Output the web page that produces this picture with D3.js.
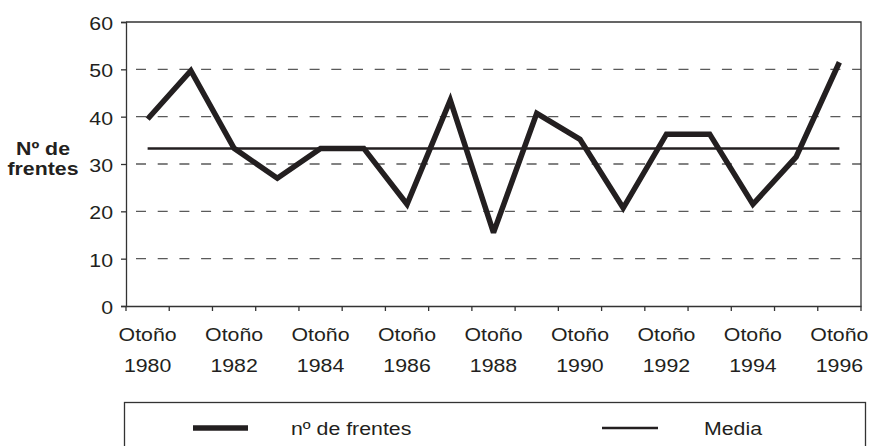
<!DOCTYPE html>
<html>
  <head>
    <meta charset="utf-8" />
    <script src="https://d3js.org/d3.v7.min.js"></script>
    <style>
      body { margin: 0; background: #fff; }
      text { font-family: "Liberation Sans", Arial, sans-serif; fill: #231f20; }
    </style>
  </head>
  <body>
    <svg id="chart" width="871" height="446"></svg>
    <script>
      // data
      const years = [1980, 1981, 1982, 1983, 1984, 1985, 1986, 1987, 1988,
                     1989, 1990, 1991, 1992, 1993, 1994, 1995, 1996];
      const frentes = [39.5, 49.7, 33.3, 27, 33.3, 33.3, 21.5, 43.5, 15.5,
                       40.7, 35.2, 20.7, 36.3, 36.3, 21.5, 31.5, 51.5];
      const media = 33.3;
      const yTicks = [0, 10, 20, 30, 40, 50, 60];
      const labelYears = [1980, 1982, 1984, 1986, 1988, 1990, 1992, 1994, 1996];

      const svg = d3.select("#chart");
      const ink = "#231f20";
      const fs = 18.7;       // font size
      const stretch = 1.14;  // the original text is a bit wide

      const x = d3.scaleBand().domain(years).range([126, 861]).paddingInner(0);
      const y = d3.scaleLinear().domain([0, 60]).range([306, 22]);
      const cx = (d) => x(d) + x.bandwidth() / 2;

      // dashed gridlines
      svg.append("g")
        .selectAll("line")
        .data(yTicks.filter((d) => d > 0 && d < 60))
        .join("line")
        .attr("x1", x.range()[0])
        .attr("x2", x.range()[1])
        .attr("y1", (d) => y(d))
        .attr("y2", (d) => y(d))
        .attr("stroke", "#5a5a5a")
        .attr("stroke-width", 1.3)
        .attr("stroke-dasharray", "10,11.7")
        .attr("stroke-dashoffset", 11.7);

      // plot frame top and right
      svg.append("path")
        .attr("d", `M${x.range()[0]},${y(60)}H${x.range()[1]}V${y(0)}`)
        .attr("fill", "none")
        .attr("stroke", "#333")
        .attr("stroke-width", 1.3);

      // y axis
      const yAxis = svg.append("g")
        .attr("transform", `translate(${x.range()[0]},0)`)
        .call(d3.axisLeft(y).tickValues(yTicks).tickSize(5));
      yAxis.select(".domain").attr("stroke", "#333").attr("stroke-width", 1.3);
      yAxis.selectAll(".tick line").attr("stroke", "#333").attr("stroke-width", 1.3);
      yAxis.selectAll(".tick text")
        .attr("x", 0)
        .attr("dy", "0.4em")
        .attr("transform", `translate(-13,0) scale(${stretch},1)`)
        .attr("font-size", fs)
        .attr("font-family", "Liberation Sans, Arial, sans-serif")
        .attr("fill", ink);

      // x axis line + ticks at band edges
      const xAxis = svg.append("g")
        .attr("transform", `translate(0,${y(0)})`)
        .call(d3.axisBottom(x).tickSize(0).tickFormat(""));
      xAxis.select(".domain").attr("stroke", "#333").attr("stroke-width", 1.3);
      const edges = years.map((d) => x(d)).concat([x.range()[1]]);
      xAxis.selectAll("line.edge")
        .data(edges)
        .join("line")
        .attr("class", "edge")
        .attr("x1", (d) => d)
        .attr("x2", (d) => d)
        .attr("y1", 0)
        .attr("y2", 5)
        .attr("stroke", "#333")
        .attr("stroke-width", 1.3);

      // x labels: two lines
      const xl = svg.append("g")
        .selectAll("text")
        .data(labelYears)
        .join("text")
        .attr("text-anchor", "middle")
        .attr("font-size", fs)
        .attr("transform", (d) => `translate(${cx(d)},0) scale(${stretch},1)`);
      xl.append("tspan").attr("x", 0).attr("y", 341.5).text("Otoño");
      xl.append("tspan").attr("x", 0).attr("y", 372).text((d) => d);

      // y title
      const yt = svg.append("text")
        .attr("text-anchor", "middle")
        .attr("font-size", fs)
        .attr("font-weight", "bold")
        .attr("transform", `translate(43,0) scale(${stretch},1)`);
      yt.append("tspan").attr("x", 0).attr("y", 155).text("Nº de");
      yt.append("tspan").attr("x", 0).attr("y", 175).text("frentes");

      // media line
      svg.append("line")
        .attr("x1", cx(years[0]))
        .attr("x2", cx(years[years.length - 1]))
        .attr("y1", y(media))
        .attr("y2", y(media))
        .attr("stroke", ink)
        .attr("stroke-width", 2.5);

      // series
      const line = d3.line()
        .x((d, i) => cx(years[i]))
        .y((d) => y(d));
      svg.append("path")
        .datum(frentes)
        .attr("d", line)
        .attr("fill", "none")
        .attr("stroke", ink)
        .attr("stroke-width", 5.5)
        .attr("stroke-linejoin", "miter")
        .attr("stroke-miterlimit", 3);

      // legend
      svg.append("rect")
        .attr("x", 124.5)
        .attr("y", 402.5)
        .attr("width", 741)
        .attr("height", 80)
        .attr("fill", "none")
        .attr("stroke", "#333")
        .attr("stroke-width", 1.3);
      const legend = svg.append("g");
      legend.append("line")
        .attr("x1", 193).attr("x2", 248).attr("y1", 428).attr("y2", 428)
        .attr("stroke", ink).attr("stroke-width", 5.5);
      legend.append("text")
        .attr("font-size", fs)
        .attr("transform", `translate(291,435) scale(${stretch},1)`)
        .text("nº de frentes");
      legend.append("line")
        .attr("x1", 602).attr("x2", 658).attr("y1", 428).attr("y2", 428)
        .attr("stroke", ink).attr("stroke-width", 2.5);
      legend.append("text")
        .attr("font-size", fs)
        .attr("transform", `translate(704,435) scale(${stretch},1)`)
        .text("Media");
    </script>
  </body>
</html>
